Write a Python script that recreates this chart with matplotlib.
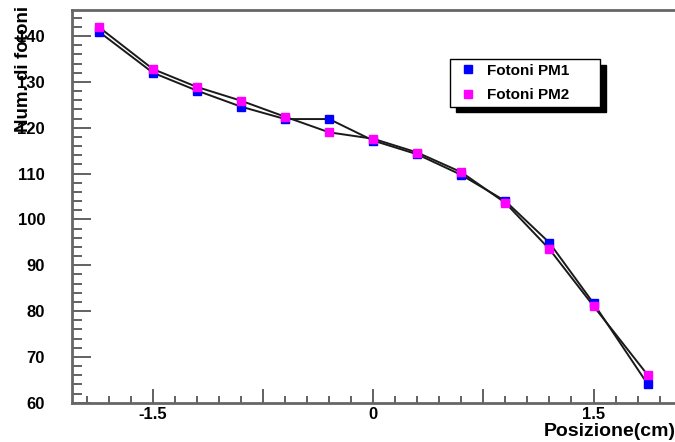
import numpy as np
import matplotlib.pyplot as plt
from matplotlib.ticker import MultipleLocator, FuncFormatter

plt.rcParams['font.family'] = ['Liberation Sans', 'DejaVu Sans']
plt.rcParams['font.weight'] = 'bold'

# posizioni (cm) e numero di fotoni per i due fotomoltiplicatori
posizione = [-1.87, -1.5, -1.2, -0.9, -0.6, -0.3, 0.0, 0.3, 0.6, 0.9, 1.2, 1.5, 1.87]
fotoni_pm1 = [141.0, 132.0, 128.1, 124.6, 121.9, 121.9, 117.2, 114.2, 109.7, 104.0, 94.9, 81.7, 64.0]
fotoni_pm2 = [142.0, 132.8, 128.9, 125.9, 122.4, 119.0, 117.6, 114.6, 110.3, 103.6, 93.5, 81.1, 66.0]

fig = plt.figure(figsize=(6.75, 4.42), dpi=100)
ax = fig.add_axes([71.5 / 675, 39.3 / 442, 1 - 71.5 / 675, (402.7 - 10) / 442])

ax.plot(posizione, fotoni_pm1, color='#1a1a1a', lw=1.4, zorder=2)
ax.plot(posizione, fotoni_pm2, color='#1a1a1a', lw=1.4, zorder=2)
ax.plot(posizione, fotoni_pm1, ls='none', marker='s', ms=6, color='#0000ff',
        mec='#0000ff', label='Fotoni PM1', zorder=3)
ax.plot(posizione, fotoni_pm2, ls='none', marker='s', ms=6, color='#ff00ff',
        mec='#ff00ff', label='Fotoni PM2', zorder=4)

ax.set_xlim(-2.055, 2.055)
ax.set_ylim(60, 145.7)

# assi stile ROOT: tacche interne, etichette solo a -1.5, 0, 1.5
ax.xaxis.set_major_locator(MultipleLocator(0.75))
ax.xaxis.set_minor_locator(MultipleLocator(0.15))
ax.xaxis.set_major_formatter(FuncFormatter(
    lambda v, p: ('%g' % round(v, 2)) if abs(v / 1.5 - round(v / 1.5)) < 1e-6 else ''))
ax.yaxis.set_major_locator(MultipleLocator(10))
ax.yaxis.set_minor_locator(MultipleLocator(2))

ax.tick_params(which='both', direction='in', color='#555555', width=1.3,
               labelsize=12, top=False, right=False)
ax.tick_params(axis='y', which='major', length=14, pad=19)
ax.tick_params(axis='y', which='minor', length=7)
ax.tick_params(axis='x', which='major', length=10, pad=3)
ax.tick_params(axis='x', which='minor', length=5)
for lab in ax.get_xticklabels() + ax.get_yticklabels():
    lab.set_fontweight('bold')

for side in ['left', 'bottom', 'top']:
    ax.spines[side].set_color('#666666')
    ax.spines[side].set_linewidth(2)
ax.spines['right'].set_visible(False)

fig.text(23.5 / 675, 1 - 6 / 442, 'Num. di fotoni', rotation=90, ha='center',
         va='top', fontsize=13.5, fontweight='bold')
fig.text(676 / 675, 1 - 432 / 442, 'Posizione(cm)', ha='right', va='center',
         fontsize=14, fontweight='bold')

leg = ax.legend(loc='upper left', mode='expand',
                bbox_to_anchor=(450 / 675, 1 - 108 / 442, 150 / 675, 49 / 442),
                bbox_transform=fig.transFigure, borderaxespad=0, fancybox=False,
                shadow={'color': 'black', 'alpha': 1, 'ox': 4, 'oy': -4},
                edgecolor='black', framealpha=1, handlelength=1.75, handletextpad=0.37,
                borderpad=0.3, labelspacing=0.7, prop={'weight': 'bold', 'size': 11})
leg.get_frame().set_linewidth(1)

fig.savefig('out.png', dpi=100)
